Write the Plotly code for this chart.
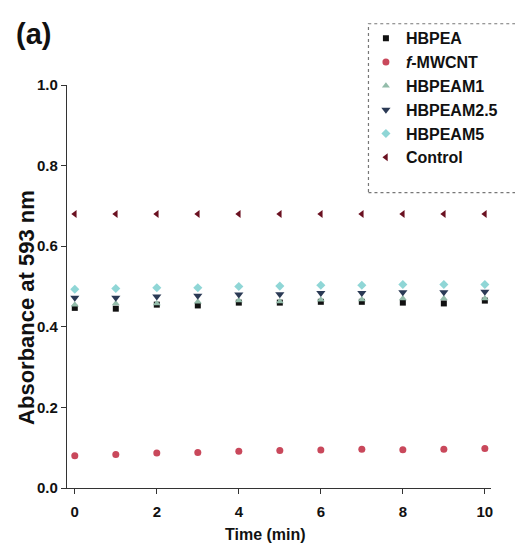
import plotly.graph_objects as go

time_min = [0, 1, 2, 3, 4, 5, 6, 7, 8, 9, 10]

hbpea = [0.447, 0.445, 0.455, 0.453, 0.460, 0.460, 0.462, 0.462, 0.460, 0.458, 0.465]
f_mwcnt = [0.080, 0.083, 0.087, 0.088, 0.091, 0.093, 0.094, 0.096, 0.095, 0.096, 0.098]
hbpeam1 = [0.455, 0.458, 0.458, 0.462, 0.465, 0.463, 0.467, 0.468, 0.470, 0.470, 0.470]
hbpeam2_5 = [0.472, 0.472, 0.475, 0.477, 0.480, 0.481, 0.484, 0.484, 0.486, 0.486, 0.487]
hbpeam5 = [0.493, 0.495, 0.497, 0.497, 0.500, 0.501, 0.503, 0.503, 0.505, 0.505, 0.505]
control = [0.68, 0.68, 0.68, 0.68, 0.68, 0.68, 0.68, 0.68, 0.68, 0.68, 0.68]

series = [
    ("HBPEA", hbpea, "square", "#111111", 6),
    ("<i>f</i>-MWCNT", f_mwcnt, "circle", "#c9485b", 7),
    ("HBPEAM1", hbpeam1, "triangle-up", "#93bcaa", 7),
    ("HBPEAM2.5", hbpeam2_5, "triangle-down", "#2b3a55", 8),
    ("HBPEAM5", hbpeam5, "diamond", "#8fd6d6", 7),
    ("Control", control, "triangle-left", "#6a1020", 7),
]

SANS = "Liberation Sans, Arial, sans-serif"
BOLD = dict(family=SANS, weight="bold", color="#111111")

fig = go.Figure()
for name, vals, sym, col, size in series:
    fig.add_trace(go.Scatter(
        x=time_min, y=vals, mode="markers", name=name,
        marker=dict(symbol=sym, color=col, size=size, line=dict(width=0)),
        cliponaxis=False,
    ))

fig.update_layout(
    width=515, height=546,
    margin=dict(l=67, r=22, t=85, b=58),
    plot_bgcolor="white", paper_bgcolor="white",
    font=dict(family=SANS, color="#111111"),
    showlegend=True,
    legend=dict(
        x=0.705, y=1.158, xanchor="left", yanchor="top",
        bgcolor="rgba(0,0,0,0)", borderwidth=0,
        font=dict(size=16, **BOLD),
        itemwidth=30, tracegroupgap=0,
    ),
    xaxis=dict(
        range=[-0.19, 10.15], tickvals=[0, 2, 4, 6, 8, 10],
        showline=True, linecolor="#333333", linewidth=1.2,
        ticks="outside", ticklen=5, tickcolor="#333333",
        showgrid=False, zeroline=False,
        tickfont=dict(size=15, **BOLD),
        ticklabelstandoff=5,
    ),
    yaxis=dict(
        range=[0, 1.0], tickvals=[0, 0.2, 0.4, 0.6, 0.8, 1.0],
        tickformat=".1f",
        showline=True, linecolor="#333333", linewidth=1.2,
        ticks="outside", ticklen=5, tickcolor="#333333",
        showgrid=False, zeroline=False,
        tickfont=dict(size=15, **BOLD),
    ),
    shapes=[dict(
        type="rect", xref="paper", yref="paper",
        x0=0.711, x1=1.06, y0=0.733, y1=1.152,
        line=dict(color="#777777", width=1.2, dash="dot"),
        fillcolor="rgba(0,0,0,0)",
    )],
    annotations=[
        dict(
            text="(a)", xref="paper", yref="paper",
            x=-0.125, y=1.127, xanchor="left", yanchor="middle",
            showarrow=False, font=dict(size=29, **BOLD),
        ),
        dict(
            text="Absorbance at 593 nm", xref="paper", yref="paper",
            x=-0.097, y=0.449, xanchor="center", yanchor="middle", textangle=-90,
            showarrow=False, font=dict(size=22, **BOLD),
        ),
        dict(
            text="Time (min)", xref="paper", yref="paper",
            x=0.469, y=-0.115, xanchor="center", yanchor="middle",
            showarrow=False, font=dict(size=16, **BOLD),
        ),
    ],
)

fig.write_html("out.html")
